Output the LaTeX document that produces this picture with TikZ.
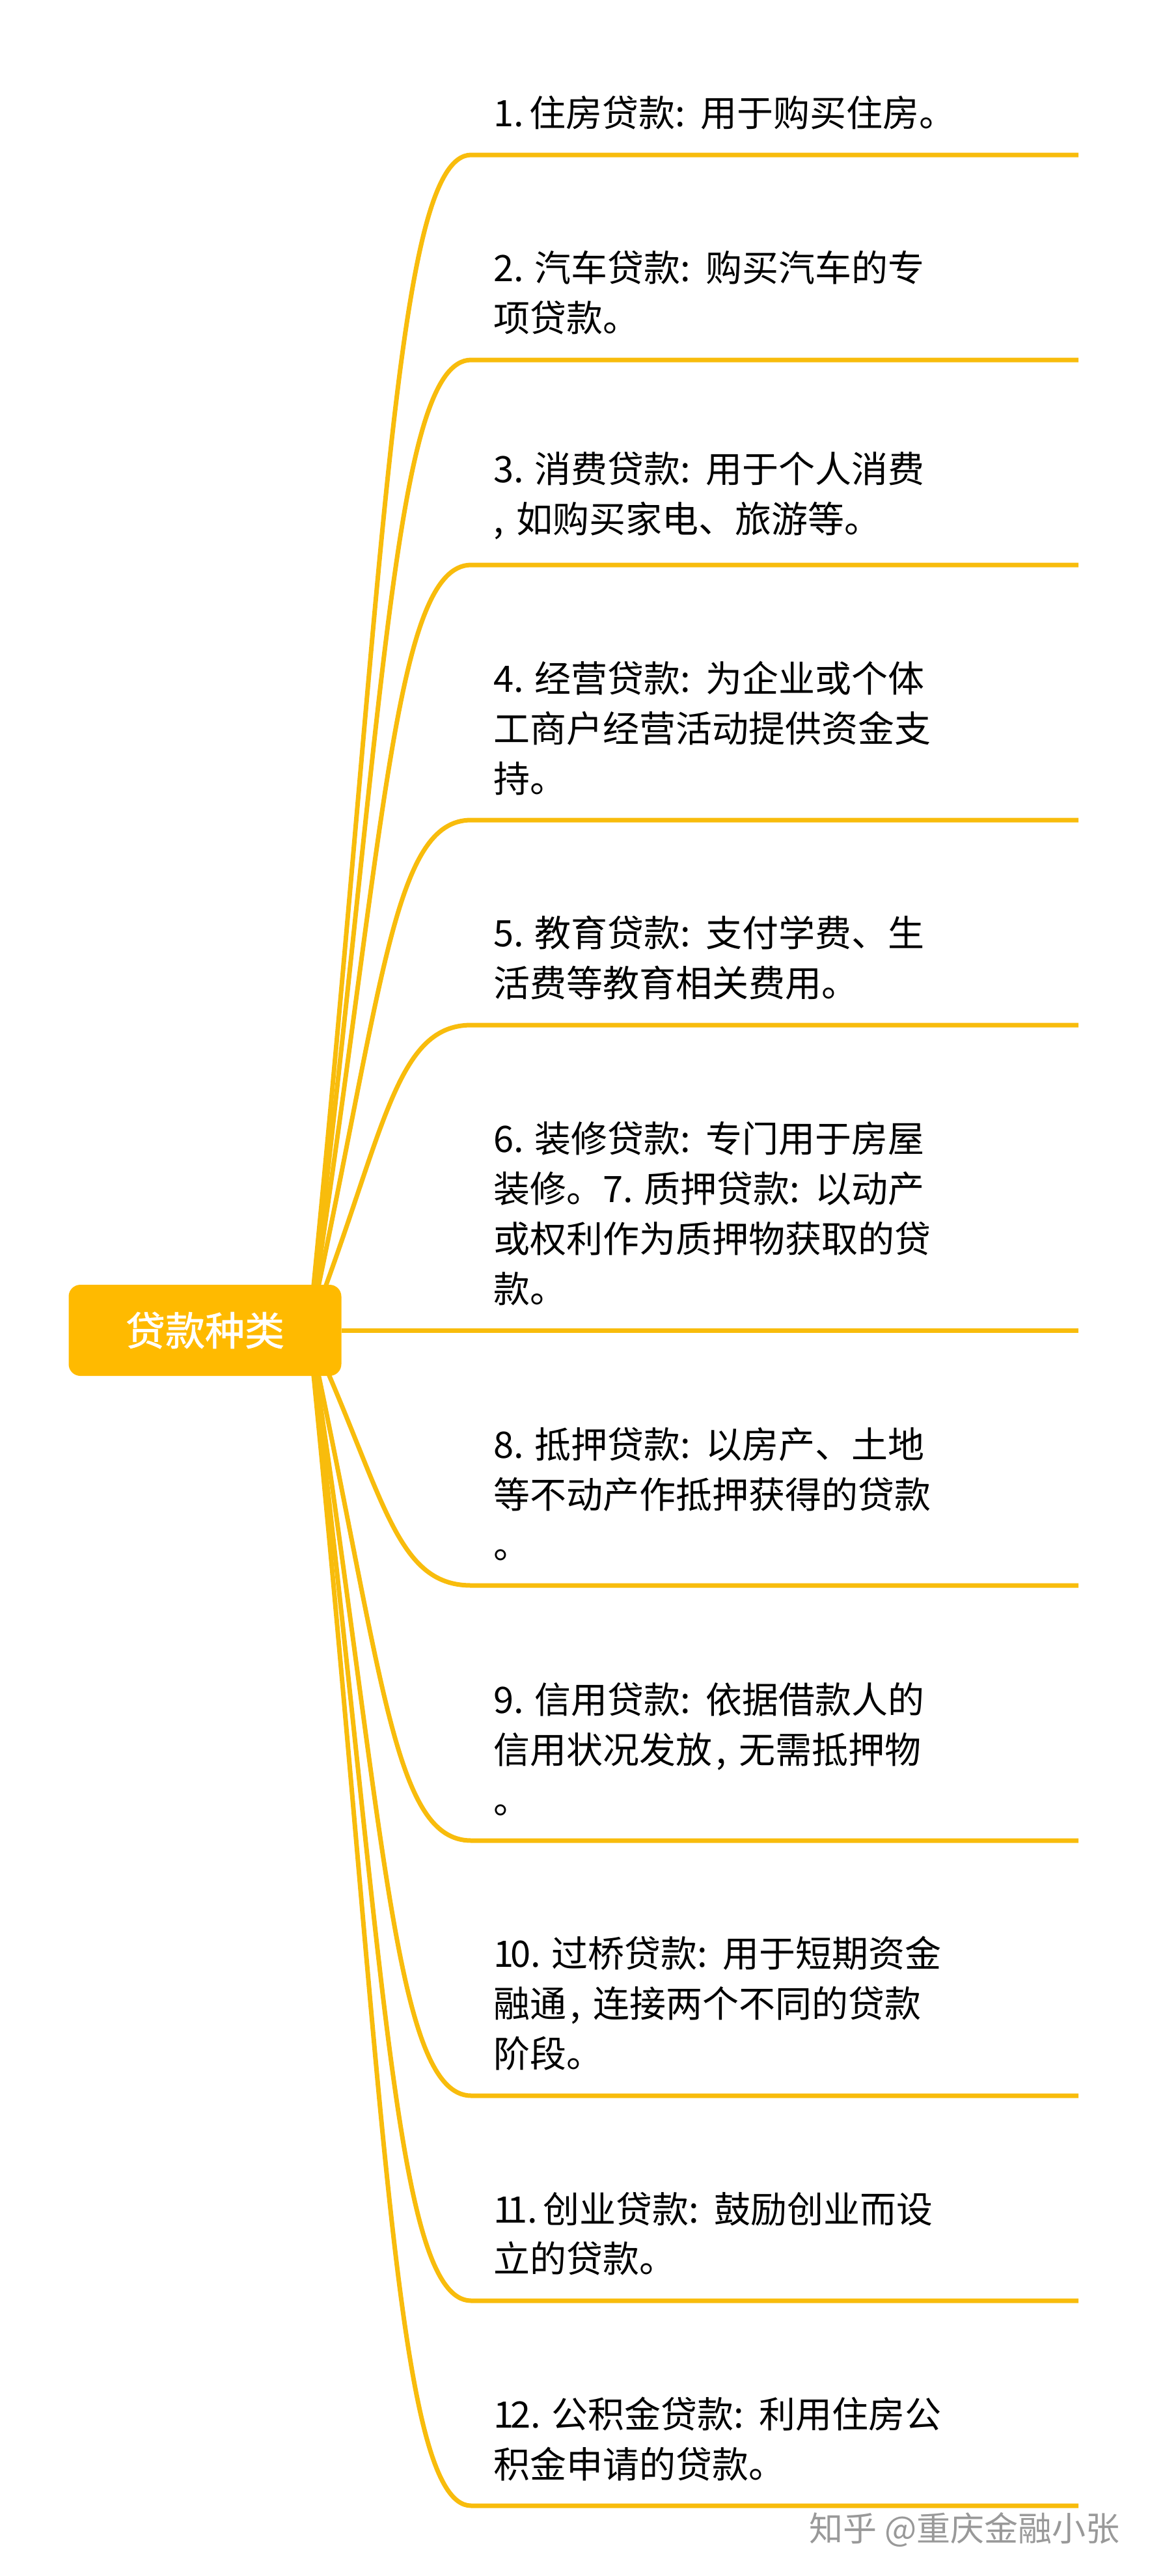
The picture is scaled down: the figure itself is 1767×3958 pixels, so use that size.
\documentclass[tikz,border=0pt]{standalone}
\usepackage{fontspec}
\setmainfont{Noto Sans CJK SC}
\newfontfamily\rootfont[FakeBold=1.2]{Noto Sans CJK SC}
\usetikzlibrary{positioning}
\definecolor{loanyellow}{HTML}{FFBA00}
\definecolor{lineyellow}{HTML}{F8BC0C}
\newcommand{\colgap}{:\hspace{11.5pt}}
\newcommand{\commagap}{\hspace{3pt},\hspace{10pt}}
\begin{document}
\begin{tikzpicture}[x=0.5pt, y=-0.5pt,
        root/.style = {fill=loanyellow, rounded corners=9pt, minimum width=209.5pt, minimum height=70pt, inner sep=0pt, text=white, font=\rootfont\fontsize{30.5pt}{36pt}\selectfont},
        item/.style = {inner sep=0pt, align=left, anchor=south west, font=\fontsize{28pt}{38.5pt}\selectfont},
        branch/.style = {draw=lineyellow, line width=3.5pt}]
        \useasboundingbox (0,0) rectangle (1767,3958);
        \coordinate (o) at (475,2044);
        % line ends
        \coordinate (c1) at (724,238);    \coordinate (e1) at (1657,238);
        \coordinate (c2) at (724,553);    \coordinate (e2) at (1657,553);
        \coordinate (c3) at (724,868);    \coordinate (e3) at (1657,868);
        \coordinate (c4) at (724,1260);   \coordinate (e4) at (1657,1260);
        \coordinate (c5) at (724,1575);   \coordinate (e5) at (1657,1575);
        \coordinate (c6) at (525,2044);   \coordinate (e6) at (1657,2044);
        \coordinate (c8) at (724,2436);   \coordinate (e8) at (1657,2436);
        \coordinate (c9) at (724,2828);   \coordinate (e9) at (1657,2828);
        \coordinate (c10) at (724,3220);  \coordinate (e10) at (1657,3220);
        \coordinate (c11) at (724,3535);  \coordinate (e11) at (1657,3535);
        \coordinate (c12) at (724,3850);  \coordinate (e12) at (1657,3850);
        % branches
        \draw[branch] (o) .. controls (590,900) and (605,238) .. (c1) -- (e1);
        \draw[branch] (o) .. controls (590,1100) and (605,553) .. (c2) -- (e2);
        \draw[branch] (o) .. controls (590,1300) and (605,868) .. (c3) -- (e3);
        \draw[branch] (o) .. controls (590,1508) and (605,1260) .. (c4) -- (e4);
        \draw[branch] (o) .. controls (590,1747) and (605,1575) .. (c5) -- (e5);
        \draw[branch] (c6) -- (e6);
        \draw[branch] (o) .. controls (590,2293) and (605,2436) .. (c8) -- (e8);
        \draw[branch] (o) .. controls (590,2580) and (605,2828) .. (c9) -- (e9);
        \draw[branch] (o) .. controls (590,2790) and (605,3220) .. (c10) -- (e10);
        \draw[branch] (o) .. controls (590,2990) and (605,3535) .. (c11) -- (e11);
        \draw[branch] (o) .. controls (590,3190) and (605,3850) .. (c12) -- (e12);
        \node[root] (r) at (315,2044) {贷款种类};
        % labels
        \node[item] (t1) [above right=19pt and 17pt of c1] {1.\hspace{-4pt} 住房贷款\colgap 用于购买住房。};
        \node[item] (t2) [above right=19pt and 17pt of c2] {2. 汽车贷款\colgap 购买汽车的专\\项贷款。};
        \node[item] (t3) [above right=19pt and 17pt of c3] {3. 消费贷款\colgap 用于个人消费\\,\hspace{10pt}如购买家电、旅游等。};
        \node[item] (t4) [above right=19pt and 17pt of c4] {4. 经营贷款\colgap 为企业或个体\\工商户经营活动提供资金支\\持。};
        \node[item] (t5) [above right=19pt and 17pt of c5] {5. 教育贷款\colgap 支付学费、生\\活费等教育相关费用。};
        \node[item] (t6) [above right=19pt and 116.5pt of c6] {6. 装修贷款\colgap 专门用于房屋\\装修。7. 质押贷款\colgap 以动产\\或权利作为质押物获取的贷\\款。};
        \node[item] (t8) [above right=19pt and 17pt of c8] {8. 抵押贷款\colgap 以房产、土地\\等不动产作抵押获得的贷款\\。};
        \node[item] (t9) [above right=19pt and 17pt of c9] {9. 信用贷款\colgap 依据借款人的\\信用状况发放\commagap 无需抵押物\\。};
        \node[item] (t10) [above right=19pt and 17pt of c10] {1\hspace{-2.5pt}0. 过桥贷款\colgap 用于短期资金\\融通\commagap 连接两个不同的贷款\\阶段。};
        \node[item] (t11) [above right=19pt and 17pt of c11] {1\hspace{-5pt}1.\hspace{-4pt} 创业贷款\colgap 鼓励创业而设\\立的贷款。};
        \node[item] (t12) [above right=19pt and 17pt of c12] {1\hspace{-2.5pt}2. 公积金贷款\colgap 利用住房公\\积金申请的贷款。};
        \node[inner sep=0pt, anchor=east, text=black!40, font=\fontsize{26pt}{30pt}\selectfont] (wm) at (1721,3887) {知乎 @重庆金融小张};
\end{tikzpicture}
\end{document}
